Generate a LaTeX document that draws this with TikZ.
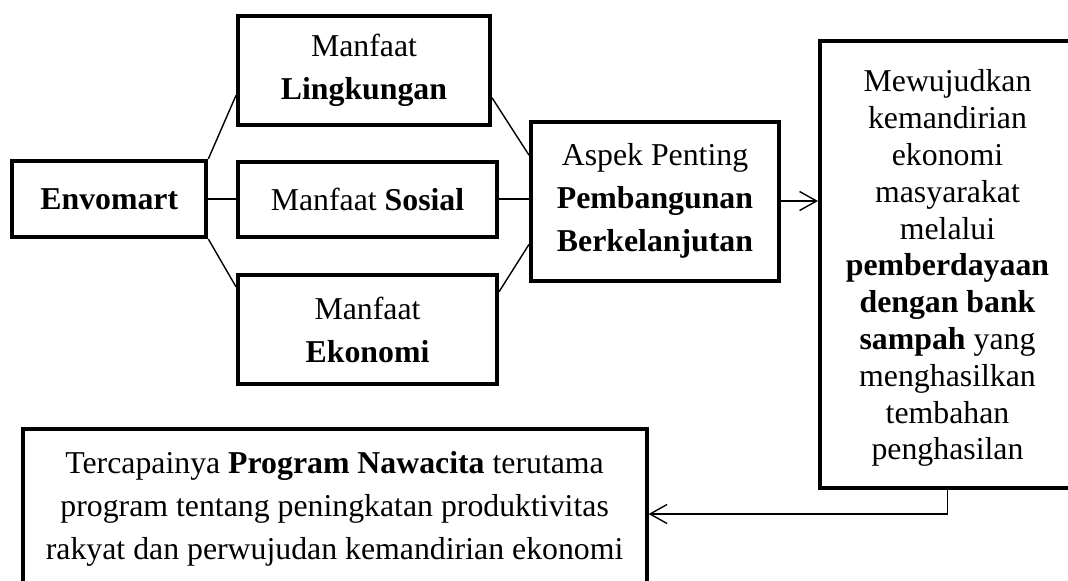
\documentclass[tikz,border=0pt]{standalone}
\usepackage{fontspec}
\setmainfont{Liberation Serif}
\usetikzlibrary{arrows.meta}

\begin{document}
\begin{tikzpicture}[x=0.5pt, y=-0.5pt,
  every node/.style = {shape=rectangle, draw, line width=2pt,
    align=center, inner sep=2pt,
    font=\fontsize{15.9}{21.5}\selectfont},
  conn/.style = {line width=0.7pt},
  arr/.style = {conn, -{Straight Barb[length=8.5pt, width=9.5pt]}}]
  \useasboundingbox (0,0) rectangle (1068,580);
  \clip (0,0) rectangle (1068,580);
  \node[minimum width=97pt, minimum height=38pt] (envo) at (109.3,199) {\textbf{Envomart}};
  \node[minimum width=126pt, minimum height=54.5pt] (ling) at (364,70.5) {Manfaat\\ \textbf{Lingkungan}};
  \node[minimum width=129.5pt, minimum height=37.5pt] (sosi) at (367.5,199) {Manfaat \textbf{Sosial}};
  \node[minimum width=129.5pt, minimum height=54.5pt] (eko) at (367.5,329.5) {Manfaat\\ \textbf{Ekonomi}};
  \node[minimum width=124pt, minimum height=79.5pt] (aspek) at (655,201)
    {Aspek Penting\\ \textbf{Pembangunan}\\ \textbf{Berkelanjutan}};
  \node[minimum width=127.5pt, minimum height=223.5pt,
    font=\fontsize{15.9}{18.4}\selectfont] (wujud) at (947.5,264.5)
    {\rule{0pt}{14.8pt}Mewujudkan\\ kemandirian\\ ekonomi\\ masyarakat\\ melalui\\ \textbf{pemberdayaan}\\
     \textbf{dengan bank}\\ \textbf{sampah} yang\\ menghasilkan\\ tembahan\\ penghasilan};
  \node[minimum width=312pt, minimum height=79.5pt] (nawa) at (334.6,508.5)
    {Tercapainya \textbf{Program Nawacita} terutama\\ program tentang peningkatan produktivitas\\
     rakyat dan perwujudan kemandirian ekonomi};
  % connectors
  \draw[conn] (envo.north east) -- (ling.191);
  \draw[conn] (envo.east) -- (sosi.west);
  \draw[conn] (envo.south east) -- (eko.162);
  \draw[conn] (ling.-12) -- (aspek.160);
  \draw[conn] (sosi.east) -- (sosi.east -| aspek.west);
  \draw[conn] (eko.16) -- (aspek.199);
  \draw[arr] (aspek.east) -- (aspek.east -| wujud.west);
  \draw[arr] (wujud.south) |- (nawa.-1.2);
\end{tikzpicture}
\end{document}
